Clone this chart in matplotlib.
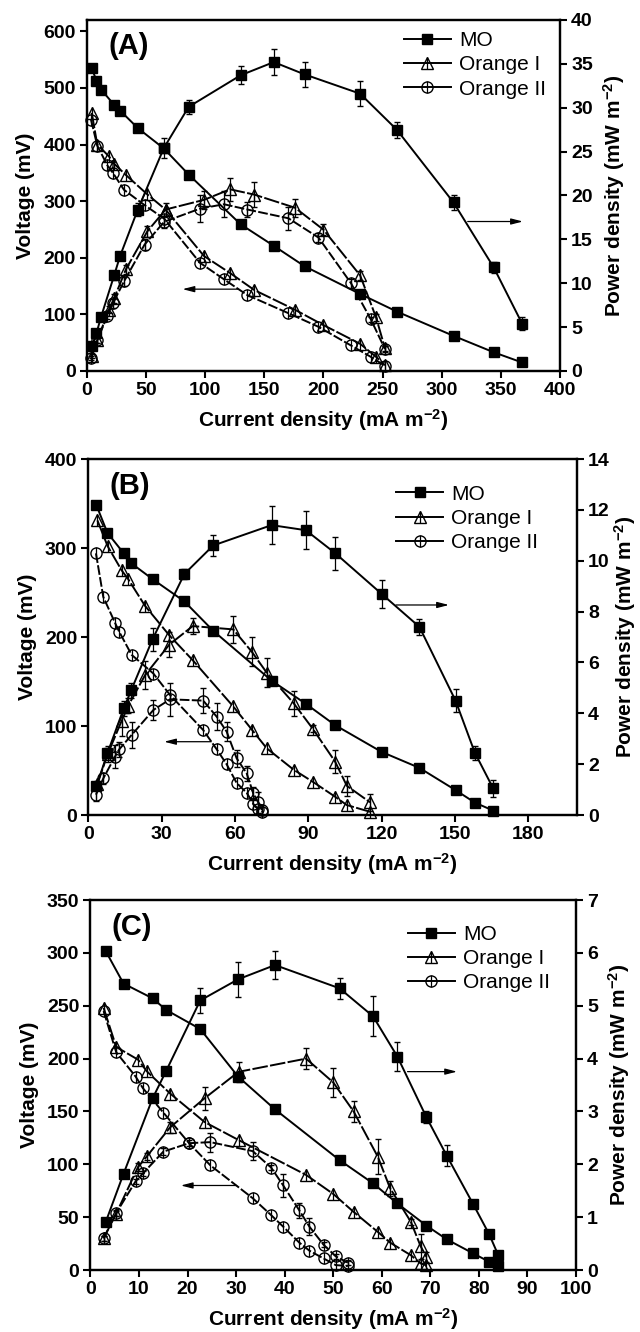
import matplotlib
matplotlib.use('Agg')
import matplotlib.pyplot as plt
from matplotlib.lines import Line2D

plt.rcParams['font.family'] = ['Liberation Sans', 'DejaVu Sans']
plt.rcParams['mathtext.fontset'] = 'custom'
plt.rcParams['mathtext.rm'] = 'Liberation Sans'
plt.rcParams['mathtext.bf'] = 'Liberation Sans:bold'
plt.rcParams['mathtext.default'] = 'bf'

# ---------------- Panel A ----------------
a_mo_x = [4, 8, 12, 23, 28, 43, 65, 86, 130, 158, 184, 231, 262, 310, 344, 368]
a_mo_v = [535, 513, 497, 470, 460, 429, 393, 347, 259, 221, 185, 136, 105, 62, 33, 15]
a_mo_p = [2.8, 4.3, 6.2, 10.9, 13.1, 18.4, 25.4, 30.1, 33.7, 35.2, 33.8, 31.6, 27.5, 19.2, 11.8, 5.4]
a_mo_pe = [0.2, 0.3, 0.3, 0.5, 0.5, 0.7, 1.1, 0.8, 1.0, 1.5, 1.4, 1.4, 0.9, 0.8, 0.6, 0.7]

a_o1_x = [4, 8.7, 18.6, 23, 33, 51, 66.5, 99, 121, 141.5, 176, 200, 231, 244.5, 252]
a_o1_v = [456, 400, 379, 366, 346, 312, 285, 203, 173, 143, 108, 81, 48, 25, 10]
a_o1_p = [1.7, 3.5, 7.0, 8.3, 11.6, 15.9, 18.4, 19.5, 20.7, 20.1, 18.6, 16.1, 10.9, 6.1, 2.6]
a_o1_pe = [0.2, 0.3, 0.4, 0.5, 0.5, 0.6, 0.7, 1.0, 1.3, 1.4, 1.0, 0.6, 0.5, 0.4, 0.3]

a_o2_x = [3.4, 8.7, 17.3, 21.9, 31.3, 48.7, 65.3, 95.6, 115.8, 135.6, 170.4, 195.8, 223.3, 240, 252]
a_o2_v = [444, 398, 363, 350, 320, 293, 269, 191, 162, 134, 102, 78, 45, 25, 9]
a_o2_p = [1.5, 3.5, 6.3, 7.7, 10.2, 14.4, 17.0, 18.5, 19.0, 18.4, 17.4, 15.2, 10.0, 5.9, 2.5]
a_o2_pe = [0.2, 0.3, 0.4, 0.5, 0.5, 0.6, 0.7, 1.5, 1.5, 0.9, 1.3, 0.5, 0.5, 0.3, 0.3]

# ---------------- Panel B ----------------
b_mo_x = [3.3, 7.8, 14.5, 17.5, 26.3, 39.3, 51.1, 75, 89, 101, 120, 135.5, 150.3, 158.2, 165.7]
b_mo_v = [348, 317, 294, 283, 265, 240, 207, 151, 125, 101, 71, 53, 28, 14, 5]
b_mo_p = [1.14, 2.43, 4.2, 4.9, 6.92, 9.48, 10.6, 11.4, 11.2, 10.3, 8.7, 7.4, 4.5, 2.45, 1.05]
b_mo_pe = [0.1, 0.2, 0.3, 0.3, 0.45, 0.2, 0.42, 0.74, 0.75, 0.65, 0.54, 0.32, 0.45, 0.28, 0.34]

b_o1_x = [3.7, 7.9, 13.6, 16.3, 23.2, 33.1, 42.7, 59.3, 66.9, 73, 84, 91.8, 101, 105.8, 115.3]
b_o1_v = [331, 302, 275, 265, 235, 202, 174, 122, 96, 75, 51, 37.5, 20.6, 11.2, 3.7]
b_o1_p = [1.22, 2.4, 3.7, 4.3, 5.5, 6.7, 7.43, 7.3, 6.42, 5.6, 4.4, 3.4, 2.1, 1.15, 0.5]
b_o1_pe = [0.1, 0.3, 0.6, 0.3, 0.55, 0.5, 0.3, 0.52, 0.57, 0.58, 0.49, 0.15, 0.46, 0.39, 0.33]

b_o2_x = [3.1, 6.1, 10.9, 12.6, 17.7, 26.6, 33.4, 47, 52.5, 56.6, 60.7, 64.8, 67.5, 69.5, 71]
b_o2_v = [294, 245, 216, 206, 180, 159, 135, 95.5, 74, 57, 36, 25, 12.4, 7, 3.5]
b_o2_p = [0.8, 1.44, 2.3, 2.58, 3.15, 4.13, 4.55, 4.5, 3.87, 3.28, 2.23, 1.64, 0.85, 0.5, 0.2]
b_o2_pe = [0.26, 0.2, 0.45, 0.3, 0.5, 0.38, 0.64, 0.5, 0.52, 0.37, 0.34, 0.3, 0.26, 0.4, 0.2]

# ---------------- Panel C ----------------
c_mo_x = [3.1, 6.8, 12.8, 15.6, 22.6, 30.4, 38, 51.3, 58.2, 63.2, 69.2, 73.4, 78.8, 82.1, 84]
c_mo_v = [302, 271, 257, 246, 228, 183, 152, 104, 82, 63, 42, 29, 15.8, 7.9, 4]
c_mo_p = [0.9, 1.82, 3.25, 3.77, 5.1, 5.5, 5.77, 5.33, 4.8, 4.04, 2.89, 2.16, 1.25, 0.68, 0.28]
c_mo_pe = [0.05, 0.06, 0.08, 0.08, 0.24, 0.33, 0.26, 0.2, 0.38, 0.27, 0.11, 0.2, 0.05, 0.05, 0.05]

c_o1_x = [2.7, 5.3, 9.8, 11.6, 16.4, 23.5, 30.5, 44.4, 50, 54.2, 59.2, 61.7, 66, 68, 69.2]
c_o1_v = [248, 211, 199, 188, 167, 140, 123, 90, 72, 55, 36, 26, 14, 6.3, 4.5]
c_o1_p = [0.6, 1.07, 1.95, 2.15, 2.7, 3.25, 3.75, 4.0, 3.55, 3.0, 2.14, 1.55, 0.91, 0.45, 0.25]
c_o1_pe = [0.05, 0.05, 0.08, 0.06, 0.1, 0.22, 0.19, 0.2, 0.28, 0.19, 0.33, 0.14, 0.06, 0.24, 0.1]

c_o2_x = [2.7, 5.3, 9.3, 10.8, 15, 20.3, 24.7, 33.4, 37.2, 39.7, 43, 45.1, 48, 50.5, 53]
c_o2_v = [245, 206, 183, 172, 149, 120, 99, 68, 52, 41, 26, 18.3, 11, 4.7, 3.8]
c_o2_p = [0.6, 1.08, 1.68, 1.83, 2.24, 2.4, 2.42, 2.25, 1.94, 1.6, 1.13, 0.82, 0.48, 0.26, 0.14]
c_o2_pe = [0.05, 0.05, 0.05, 0.05, 0.06, 0.06, 0.18, 0.17, 0.05, 0.22, 0.14, 0.16, 0.05, 0.05, 0.05]

series_names = ['MO', 'Orange I', 'Orange II']
panel_tags = ['(A)', '(B)', '(C)']
xlabel = 'Current density (mA m$^{-2}$)'
ylabel = 'Voltage (mV)'
y2label = 'Power density (mW m$^{-2}$)'

styles = [
    dict(marker='s', ms=7.8, mfc='k', ls='-', open=False),
    dict(marker='^', ms=9, mfc='none', ls=(0, (8, 1.2)), open=True),
    dict(marker='o', ms=8, mfc='none', ls=(0, (5, 1.2)), open=True),
]

LW = 1.4
fig = plt.figure(figsize=(6.4, 13.32), dpi=100)


def style_ticks(axis):
    for lab in axis.get_xticklabels() + axis.get_yticklabels():
        lab.set_fontweight('bold')


def draw_panel(rect, tag, xlim, xticks, ylim, yticks, y2lim, y2ticks, data,
               arrows, leg_xy, tag_xy, y2pad):
    ax = fig.add_axes(rect)
    ax2 = ax.twinx()
    ax.set_xlim(*xlim)
    ax.set_ylim(*ylim)
    ax2.set_ylim(*y2lim)
    ax.set_xticks(xticks)
    ax.set_yticks(yticks)
    ax2.set_yticks(y2ticks)
    for (x, v, p, pe), st in zip(data, styles):
        ax.plot(x, v, color='k', lw=LW, ls=st['ls'], marker=st['marker'],
                ms=st['ms'], mfc=st['mfc'], mec='k', mew=1.0, clip_on=False, zorder=3)
        eb = ax2.errorbar(x, p, yerr=pe, color='k', lw=LW, ls=st['ls'],
                          marker=st['marker'], ms=st['ms'], mfc=st['mfc'], mec='k',
                          mew=1.0, ecolor='k', elinewidth=0.9, capsize=2.5,
                          capthick=0.9, clip_on=False, zorder=3)
        for c in eb.lines[1] + tuple(eb.lines[2]):
            c.set_clip_on(False)
        if st['open']:
            ax.plot(x, v, ls='none', marker='|', ms=st['ms'], mec='k', mew=0.9,
                    clip_on=False, zorder=3)
            ax2.plot(x, p, ls='none', marker='|', ms=st['ms'], mec='k', mew=0.9,
                     clip_on=False, zorder=3)
    for (x0, x1, yv) in arrows:
        ax.annotate('', xy=(x1, yv), xytext=(x0, yv),
                    arrowprops=dict(arrowstyle='-|>,head_length=0.7,head_width=0.18',
                                    color='k', lw=0.9, shrinkA=0, shrinkB=0))
    for a in (ax, ax2):
        for sp in a.spines.values():
            sp.set_linewidth(1.6)
        a.tick_params(direction='out', length=5, width=1.5, labelsize=14, pad=3)
    ax.tick_params(top=False)
    style_ticks(ax)
    style_ticks(ax2)
    ax.set_xlabel(xlabel, fontsize=15, fontweight='bold', labelpad=6)
    ax.set_ylabel(ylabel, fontsize=15, fontweight='bold', labelpad=6)
    ax2.set_ylabel(y2label, fontsize=15, fontweight='bold', labelpad=y2pad)
    ax.text(tag_xy[0], tag_xy[1], tag, transform=ax.transAxes, fontsize=21,
            fontweight='bold', ha='left', va='top')
    handles = []
    for st in styles:
        h = Line2D([], [], color='k', lw=LW, ls='-', marker=st['marker'], ms=st['ms'],
                   mfc=st['mfc'], mec='k', mew=1.0)
        if st['open']:
            hb = Line2D([], [], ls='none', marker='|', ms=st['ms'], mec='k', mew=0.9)
            handles.append((h, hb))
        else:
            handles.append(h)
    ax2.legend(handles, series_names, loc='upper left', bbox_to_anchor=leg_xy,
               frameon=False, fontsize=15, handlelength=2.25, handletextpad=0.4,
               labelspacing=0.25, borderaxespad=0, borderpad=0)
    return ax, ax2


draw_panel([0.1359, 0.7215, 0.739, 0.2635], panel_tags[0], (0, 400), range(0, 401, 50),
           (0, 620), range(0, 601, 100), (0, 40), range(0, 41, 5),
           [(a_mo_x, a_mo_v, a_mo_p, a_mo_pe), (a_o1_x, a_o1_v, a_o1_p, a_o1_pe),
            (a_o2_x, a_o2_v, a_o2_p, a_o2_pe)],
           [(322, 368.7, 264), (127.7, 80.8, 144.5)], (0.67, 0.968), (0.046, 0.966), 6)

draw_panel([0.1381, 0.3881, 0.7634, 0.2673], panel_tags[1], (0, 200), range(0, 181, 30),
           (0, 400), range(0, 401, 100), (0, 14), range(0, 15, 2),
           [(b_mo_x, b_mo_v, b_mo_p, b_mo_pe), (b_o1_x, b_o1_v, b_o1_p, b_o1_pe),
            (b_o2_x, b_o2_v, b_o2_p, b_o2_pe)],
           [(125.9, 147.6, 236), (50.3, 31, 82.4)], (0.63, 0.928), (0.044, 0.964), 2)

draw_panel([0.1414, 0.0465, 0.7586, 0.2778], panel_tags[2], (0, 100), range(0, 101, 10),
           (0, 350), range(0, 351, 50), (0, 7), range(0, 8, 1),
           [(c_mo_x, c_mo_v, c_mo_p, c_mo_pe), (c_o1_x, c_o1_v, c_o1_p, c_o1_pe),
            (c_o2_x, c_o2_v, c_o2_p, c_o2_pe)],
           [(65.3, 75.5, 187.7), (30.1, 18.6, 80)], (0.654, 0.933), (0.043, 0.965), 6)

fig.savefig('out.png', dpi=100)
